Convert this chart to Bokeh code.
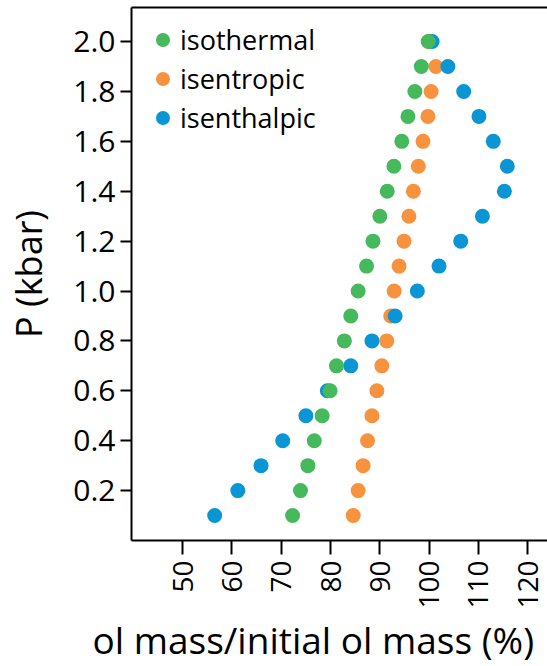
import math
from bokeh.plotting import figure
from bokeh.models import (LinearAxis, FixedTicker, Legend, LegendItem, Title,
                          ColumnDataSource, PrintfTickFormatter)
from bokeh.embed import file_html
from bokeh.resources import INLINE

# ---- data ----
pressure = [0.1, 0.2, 0.3, 0.4, 0.5, 0.6, 0.7, 0.8, 0.9, 1.0,
            1.1, 1.2, 1.3, 1.4, 1.5, 1.6, 1.7, 1.8, 1.9, 2.0]
isothermal = [72.3, 73.9, 75.4, 76.7, 78.3, 79.9, 81.2, 82.8, 84.1, 85.6,
              87.3, 88.6, 90.0, 91.5, 92.85, 94.45, 95.7, 97.1, 98.4, 99.8]
isentropic = [84.6, 85.6, 86.6, 87.5, 88.4, 89.4, 90.4, 91.4, 92.2, 92.9,
              93.9, 94.9, 95.9, 96.8, 97.8, 98.75, 99.75, 100.4, 101.35, 100.0]
isenthalpic = [56.5, 61.2, 65.9, 70.3, 75.0, 79.35, 84.1, 88.4, 93.1, 97.6,
               102.0, 106.4, 110.8, 115.25, 115.85, 113.0, 110.1, 107.0, 103.8, 100.6]
x_ticks = [50, 60, 70, 80, 90, 100, 110, 120]
y_ticks = [0.2, 0.4, 0.6, 0.8, 1.0, 1.2, 1.4, 1.6, 1.8, 2.0]
series_names = ["isothermal", "isentropic", "isenthalpic"]
series_colors = ["#46b95c", "#f7933e", "#0a95d4"]
x_title = "ol mass/initial ol mass (%)"
y_title = "P (kbar)"

FONT = "Open Sans"

p = figure(width=547, height=664, output_backend="svg", toolbar_location=None,
           x_range=(39.63, 124.0), y_range=(0.0, 2.1365),
           min_border_left=131, min_border_right=0, min_border_top=7,
           min_border_bottom=124, background_fill_color="white",
           border_fill_color="white")
p.outline_line_color = None
p.grid.visible = False

xa = p.below[0]
ya = p.left[0]

# top border line
top = LinearAxis(ticker=FixedTicker(ticks=[]), major_tick_out=0, major_tick_in=0,
                 minor_tick_out=0, minor_tick_in=0, major_label_text_font_size="0px",
                 major_label_standoff=0, axis_line_width=2, axis_line_color="black")
p.add_layout(top, "above")

renderers = {}
vals = {"isothermal": isothermal, "isentropic": isentropic, "isenthalpic": isenthalpic}
# draw order: orange, blue, green (green on top)
for name in ["isentropic", "isenthalpic", "isothermal"]:
    col = series_colors[series_names.index(name)]
    src = ColumnDataSource(dict(x=vals[name], y=pressure))
    renderers[name] = p.scatter("x", "y", source=src, size=15, fill_color=col,
                                line_color=None, marker="circle")

legend = Legend(items=[LegendItem(label=n, renderers=[renderers[n]]) for n in series_names],
                location="top_left", border_line_color=None, background_fill_alpha=0,
                glyph_width=35, glyph_height=35, spacing=2, padding=0, margin=14,
                label_standoff=0, label_text_font=FONT, label_text_font_size="27px",
                label_text_color="black")
p.add_layout(legend)

# x axis
xa.ticker = FixedTicker(ticks=x_ticks)
xa.major_label_orientation = math.pi / 2
# y axis
ya.ticker = FixedTicker(ticks=y_ticks)
ya.formatter = PrintfTickFormatter(format="%.1f")
ya.axis_label = y_title

for ax, tick_out, fs in ((xa, 14, "28px"), (ya, 11, "30px")):
    ax.major_tick_out = tick_out
    ax.major_tick_in = 0
    ax.minor_tick_line_color = None
    ax.major_tick_line_width = 2
    ax.major_tick_line_color = "black"
    ax.axis_line_width = 2
    ax.axis_line_color = "black"
    ax.major_label_text_font = FONT
    ax.major_label_text_font_size = fs
    ax.major_label_text_color = "black"
    ax.axis_label_text_font = FONT
    ax.axis_label_text_font_size = "36px"
    ax.axis_label_text_font_style = "normal"
    ax.axis_label_text_color = "black"

xa.major_label_standoff = 6
ya.major_label_standoff = 5
ya.axis_label_standoff = 17

# x-axis title (offset to the left as in the reference)
p.add_layout(Title(text=x_title, align="left", offset=-39, standoff=0,
                   text_font=FONT, text_font_size="37px", text_font_style="normal",
                   text_color="black"), "below")

open("out.html", "w").write(file_html(p, INLINE))
